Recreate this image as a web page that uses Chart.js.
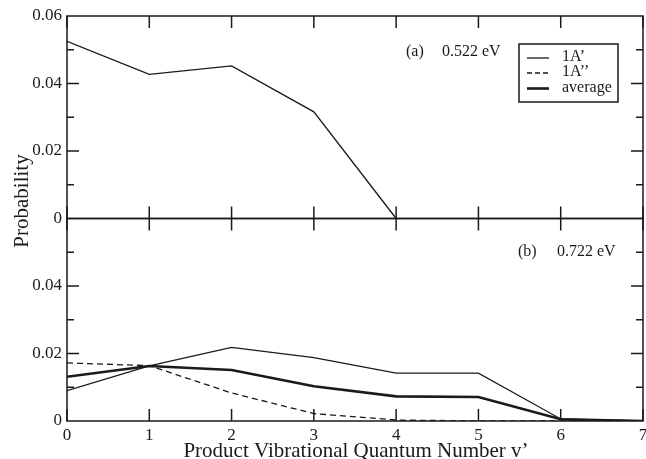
<!DOCTYPE html>
<html>
<head>
<meta charset="utf-8">
<script src="https://cdn.jsdelivr.net/npm/chart.js@4.4.1/dist/chart.umd.min.js"></script>
<style>
  html, body { margin: 0; padding: 0; background: #fff; }
  #wrap { width: 646px; height: 459px; }
</style>
</head>
<body>
<div id="wrap"><canvas id="probChart"></canvas></div>
<script>
// vibrational quantum numbers v'
const vibA = [0, 1, 2, 3, 4];
const vibB = [0, 1, 2, 3, 4, 5, 6, 7];
// (a) 0.522 eV
const panelA_1Ap = [0.0525, 0.0427, 0.0452, 0.0316, 0];
// (b) 0.722 eV
const panelB_1Ap = [0.009, 0.0163, 0.0218, 0.0188, 0.0142, 0.0142, 0.0006, 0];
const panelB_1App = [0.0172, 0.0164, 0.0083, 0.0022, 0.0003, 0, 0, 0];
const panelB_avg = [0.0131, 0.0163, 0.0151, 0.0103, 0.0073, 0.0071, 0.0005, 0];
const yTicks = [0, 0.02, 0.04, 0.06];
const xTicks = [0, 1, 2, 3, 4, 5, 6, 7];

const ink = "#1a1a1a";
const serif = "'Liberation Serif', 'DejaVu Serif', serif";

function pts(xs, ys) {
  return xs.map((x, i) => ({ x: x, y: ys[i] }));
}

function yAxis(hideTop) {
  return {
    type: "linear",
    position: "left",
    stack: "panels",
    stackWeight: 1,
    min: 0,
    max: 0.06,
    afterBuildTicks: (s) => { s.ticks = yTicks.map((v) => ({ value: v })); },
    ticks: {
      autoSkip: false,
      padding: 5,
      color: ink,
      font: { family: serif, size: 17 },
      callback: (v) => (hideTop && v === 0.06 ? "" : (v === 0 ? "0" : v.toFixed(2)))
    },
    grid: { display: false, drawTicks: false },
    border: { display: false },
    afterFit: (s) => { s.width = 67; }
  };
}

// frame, inward ticks, annotations and legend
const framePlugin = {
  id: "frame",
  afterDraw(chart) {
    const ctx = chart.ctx;
    const xs = chart.scales.x;
    const panels = [chart.scales.ya, chart.scales.yb];
    const L = chart.chartArea.left, R = chart.chartArea.right;
    ctx.save();
    ctx.strokeStyle = ink;
    ctx.lineWidth = 1.5;
    panels.forEach((ys) => {
      ctx.strokeRect(L, ys.top, R - L, ys.bottom - ys.top);
      ctx.beginPath();
      xTicks.forEach((v) => {
        const px = xs.getPixelForValue(v);
        ctx.moveTo(px, ys.top); ctx.lineTo(px, ys.top + 12);
        ctx.moveTo(px, ys.bottom); ctx.lineTo(px, ys.bottom - 12);
      });
      for (let k = 1; k < 6; k++) {
        const py = ys.getPixelForValue(k * 0.01);
        const len = k % 2 === 0 ? 12 : 7;
        ctx.moveTo(L, py); ctx.lineTo(L + len, py);
        ctx.moveTo(R, py); ctx.lineTo(R - len, py);
      }
      ctx.stroke();
    });

    ctx.fillStyle = ink;
    ctx.textBaseline = "middle";
    ctx.font = "16px " + serif;
    ctx.textAlign = "left";
    ctx.fillText("(a)", 406, 52);
    ctx.fillText("0.522 eV", 442, 52);
    ctx.fillText("(b)", 518, 252);
    ctx.fillText("0.722 eV", 557, 252);

    // axis titles
    ctx.font = "21px " + serif;
    ctx.textAlign = "center";
    ctx.textBaseline = "alphabetic";
    ctx.fillText("Product Vibrational Quantum Number v\u2019", 356, 457);
    ctx.save();
    ctx.translate(28, 201);
    ctx.rotate(-Math.PI / 2);
    ctx.fillText("Probability", 0, 0);
    ctx.restore();

    // legend
    ctx.lineWidth = 1.5;
    ctx.strokeRect(519, 44, 99, 58);
    const rows = [
      { label: "1A\u2019", width: 1.3, dash: [], y: 57 },
      { label: "1A\u2019\u2019", width: 1.3, dash: [5, 3], y: 72 },
      { label: "average", width: 2.6, dash: [], y: 87.5 }
    ];
    ctx.font = "16px " + serif;
    ctx.textAlign = "left";
    ctx.textBaseline = "middle";
    rows.forEach((r) => {
      ctx.beginPath();
      ctx.lineWidth = r.width;
      ctx.setLineDash(r.dash);
      ctx.moveTo(527, r.y + 1); ctx.lineTo(549, r.y + 1);
      ctx.stroke();
      ctx.setLineDash([]);
      ctx.fillText(r.label, 562, r.y);
    });
    ctx.restore();
  }
};

const thin = { borderColor: ink, borderWidth: 1.3, pointRadius: 0, fill: false, tension: 0 };

new Chart(document.getElementById("probChart"), {
  type: "line",
  data: {
    datasets: [
      Object.assign({ label: "1A' (a)", data: pts(vibA, panelA_1Ap), yAxisID: "ya" }, thin),
      Object.assign({ label: "1A' (b)", data: pts(vibB, panelB_1Ap), yAxisID: "yb" }, thin),
      Object.assign({ label: "1A'' (b)", data: pts(vibB, panelB_1App), yAxisID: "yb", borderDash: [6, 4] }, thin),
      { label: "average (b)", data: pts(vibB, panelB_avg), yAxisID: "yb", borderColor: ink, borderWidth: 2.6, pointRadius: 0, fill: false }
    ]
  },
  options: {
    responsive: true,
    maintainAspectRatio: false,
    animation: false,
    layout: { padding: { top: 16, right: 3, left: 0, bottom: 0 } },
    plugins: { legend: { display: false }, tooltip: { enabled: false } },
    scales: {
      x: {
        type: "linear",
        min: 0,
        max: 7,
        afterBuildTicks: (s) => { s.ticks = xTicks.map((v) => ({ value: v })); },
        ticks: { padding: 4, color: ink, font: { family: serif, size: 17 } },
        grid: { display: false, drawTicks: false },
        border: { display: false },
        afterFit: (s) => { s.height = 38; s.paddingLeft = 0; s.paddingRight = 0; }
      },
      yb: yAxis(true),
      ya: yAxis(false)
    }
  },
  plugins: [framePlugin]
});
</script>
</body>
</html>
